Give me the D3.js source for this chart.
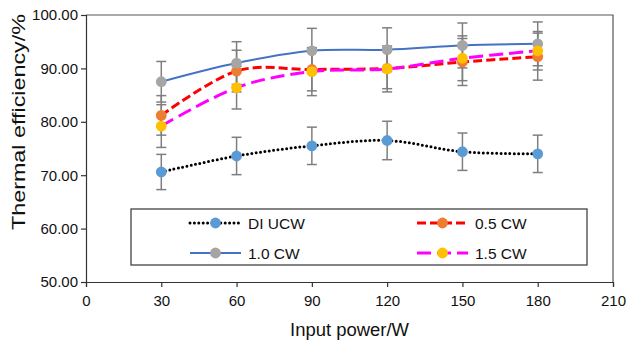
<!DOCTYPE html>
<html>
<head>
<meta charset="utf-8">
<script src="https://cdn.jsdelivr.net/npm/d3@7"></script>
<style>
  body { margin: 0; background: #fff; }
  text { font-family: "Liberation Sans", Arial, sans-serif; fill: #111; }
</style>
</head>
<body>
<div id="chart"></div>
<script>
// values
const power = [30, 60, 90, 120, 150, 180];
const diUcw = [70.6, 73.6, 75.5, 76.5, 74.4, 74.0];
const diUcwErr = [3.3, 3.5, 3.5, 3.6, 3.5, 3.5];
const cw05 = [81.2, 89.5, 89.8, 90.0, 91.2, 92.2];
const cw05Err = [3.7, 3.9, 4.0, 3.8, 4.4, 4.4];
const cw10 = [87.5, 91.0, 93.3, 93.5, 94.3, 94.6];
const cw10Err = [3.8, 4.0, 4.2, 4.1, 4.2, 4.1];
const cw15 = [79.2, 86.4, 89.4, 89.9, 91.9, 93.3];
const cw15Err = [4.0, 4.0, 4.5, 4.3, 4.2, 3.6];
const seriesNames = ['DI UCW', '0.5 CW', '1.0 CW', '1.5 CW'];
const xTicks = [0, 30, 60, 90, 120, 150, 180, 210];
const yTicks = [50, 60, 70, 80, 90, 100];

const W = 626, H = 345;
const mLeft = 86, mRight = 613, mTop = 15, mBottom = 282;

const series = [
    {name: seriesNames[0], vals: diUcw, err: diUcwErr, line: '#000', marker: '#5B9BD5', width: 3, dash: '0,4.4', cap: 'round'},
    {name: seriesNames[1], vals: cw05, err: cw05Err, line: '#FF0000', marker: '#ED7D31', width: 3, dash: '9,4', cap: 'butt'},
    {name: seriesNames[2], vals: cw10, err: cw10Err, line: '#4472C4', marker: '#A5A5A5', width: 2, dash: null, cap: 'butt'},
    {name: seriesNames[3], vals: cw15, err: cw15Err, line: '#FF00FF', marker: '#FFC000', width: 3, dash: '14,6', cap: 'butt'}
];

const svg = d3.select('#chart')
    .append('svg')
    .attr('width', W)
    .attr('height', H);

const x = d3.scaleLinear().domain([0, 210]).range([mLeft, mRight]);
const y = d3.scaleLinear().domain([50, 100]).range([mBottom, mTop]);

// plot frame (top + right)
svg.append('path')
    .attr('d', `M${mLeft},${mTop}H${mRight}V${mBottom}`)
    .attr('fill', 'none')
    .attr('stroke', '#555')
    .attr('stroke-width', 1.2);

const yAxis = svg.append('g')
    .attr('transform', `translate(${mLeft},0)`)
    .call(d3.axisLeft(y).tickValues(yTicks).tickFormat(d3.format('.2f')).tickSizeOuter(0).tickSize(5).tickPadding(3));
const xAxis = svg.append('g')
    .attr('transform', `translate(0,${mBottom})`)
    .call(d3.axisBottom(x).tickValues(xTicks).tickSizeOuter(0).tickSize(5).tickPadding(8));
[xAxis, yAxis].forEach(a => {
    a.selectAll('path, line').attr('stroke', '#333').attr('stroke-width', 1.2);
    a.selectAll('text').style('font-size', '15px').attr('fill', '#111');
});

// axis titles
svg.append('text')
    .attr('x', (mLeft + mRight) / 2)
    .attr('y', 336)
    .attr('text-anchor', 'middle')
    .attr('textLength', 119)
    .attr('lengthAdjust', 'spacingAndGlyphs')
    .style('font-size', '17.5px')
    .text('Input power/W');

svg.append('text')
    .attr('transform', 'translate(25,122) rotate(-90)')
    .attr('text-anchor', 'middle')
    .attr('textLength', 216)
    .attr('lengthAdjust', 'spacingAndGlyphs')
    .style('font-size', '18px')
    .text('Thermal efficiency/%');

const line = d3.line()
    .x((d, i) => x(power[i]))
    .y(d => y(d))
    .curve(d3.curveCardinal.tension(0));

const plot = svg.append('g');

series.forEach(s => {
    plot.append('path')
        .attr('d', line(s.vals))
        .attr('fill', 'none')
        .attr('stroke', s.line)
        .attr('stroke-width', s.width)
        .attr('stroke-dasharray', s.dash)
        .attr('stroke-linecap', s.cap);
});

series.forEach(s => {
    const g = plot.append('g')
        .attr('stroke', '#7F7F7F')
        .attr('stroke-width', 1.5);
    s.vals.forEach((v, i) => {
        const cx = x(power[i]), y1 = y(v + s.err[i]), y2 = y(v - s.err[i]);
        g.append('line').attr('x1', cx).attr('x2', cx).attr('y1', y1).attr('y2', y2);
        g.append('line').attr('x1', cx - 5).attr('x2', cx + 5).attr('y1', y1).attr('y2', y1);
        g.append('line').attr('x1', cx - 5).attr('x2', cx + 5).attr('y1', y2).attr('y2', y2);
    });
});

series.forEach(s => {
    plot.append('g')
        .selectAll('circle')
        .data(s.vals)
        .enter()
        .append('circle')
        .attr('cx', (d, i) => x(power[i]))
        .attr('cy', d => y(d))
        .attr('r', 5.4)
        .attr('fill', s.marker);
});

// legend
const legend = svg.append('g');
legend.append('rect')
    .attr('x', 131).attr('y', 209)
    .attr('width', 456).attr('height', 56)
    .attr('fill', '#fff')
    .attr('stroke', '#444')
    .attr('stroke-width', 1.3);

const legPos = [[190, 223], [417, 223], [190, 253], [417, 253]];
series.forEach((s, i) => {
    const [lx, ly] = legPos[i];
    legend.append('line')
        .attr('x1', lx).attr('x2', lx + 51)
        .attr('y1', ly).attr('y2', ly)
        .attr('stroke', s.line)
        .attr('stroke-width', s.width)
        .attr('stroke-dasharray', s.dash)
        .attr('stroke-linecap', s.cap);
    legend.append('circle')
        .attr('cx', lx + 25.5).attr('cy', ly)
        .attr('r', 5.4)
        .attr('fill', s.marker);
    legend.append('text')
        .attr('x', lx + 58).attr('y', ly)
        .attr('dy', '0.36em')
        .style('font-size', '15.5px')
        .text(s.name);
});
</script>
</body>
</html>
